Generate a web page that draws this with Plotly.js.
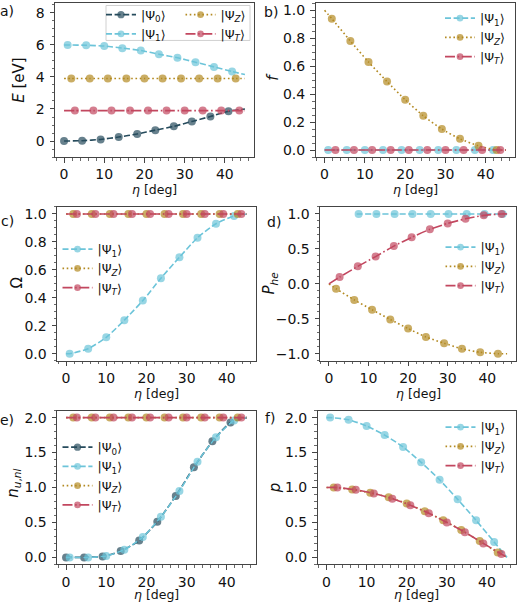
<!DOCTYPE html>
<html>
<head>
<meta charset="utf-8">
<script src="https://cdn.plot.ly/plotly-3.0.1.min.js"></script>
<style>html,body{margin:0;padding:0;background:#fff}#chart{width:520px;height:602px}</style>
</head>
<body>
<div id="chart"></div>
<script>
// ---------- data ----------
// marker positions along eta [deg] for each state
const ETA_PSI0 = [0, 4.5, 9.1, 13.6, 18.2, 22.7, 27.3, 31.8, 36.4, 40.9];
const ETA_PSI1 = [0.9, 5.5, 10.0, 14.5, 19.1, 23.6, 28.2, 32.7, 37.3, 41.8];
const ETA_PSIZ = [1.8, 6.4, 10.9, 15.5, 20.0, 24.5, 29.1, 33.6, 38.2, 42.7];
const ETA_PSIT = [2.7, 7.3, 11.8, 16.4, 20.9, 25.5, 30.0, 34.5, 39.1, 43.6];
const ETA_PSI1_PHE = [7.5, 12.0, 16.6, 21.1, 25.7, 30.2, 34.8, 39.3, 43.9];

const LEGEND_NAMES = ['|Ψ<sub>0</sub>⟩', '|Ψ<sub>1</sub>⟩', '|Ψ<sub><i>Z</i></sub>⟩', '|Ψ<sub><i>T</i></sub>⟩'];
const PANEL_LABELS = ['a)', 'b)', 'c)', 'd)', 'e)', 'f)'];
const Y_TITLES = ['<i>E</i> [eV]', '<i>f</i>', 'Ω', '<i>P</i><sub><i>he</i></sub>', '<i>n</i><sub><i>u</i>,<i>nl</i></sub>', '<i>p</i>'];
const X_TITLE = '<i>η</i> [deg]';
const X_TICKS = [0, 10, 20, 30, 40];

// a) energies E [eV]
const E_psi0 = [0, 0.02, 0.1, 0.25, 0.44, 0.68, 0.92, 1.22, 1.53, 1.86];
const E_psi1 = [6.0, 5.98, 5.93, 5.8, 5.65, 5.42, 5.2, 4.92, 4.63, 4.34];
const E_psiZ = [3.9, 3.9, 3.9, 3.9, 3.9, 3.9, 3.9, 3.9, 3.9, 3.9];
const E_psiT = [1.9, 1.9, 1.9, 1.9, 1.9, 1.9, 1.9, 1.9, 1.9, 1.9];
const E_psi0_edges = [null, [45, 2.0]];
const E_psi1_edges = [[0, 6.0], [45, 4.15]];
const E_psiZ_edges = [[0, 3.9], [45, 3.9]];
const E_psiT_edges = [[0, 1.9], [45, 1.9]];

// b) oscillator strength f
const f_psi1 = [0, 0, 0, 0, 0, 0, 0, 0, 0, 0];
const f_psiZ = [0.94, 0.78, 0.63, 0.49, 0.36, 0.245, 0.15, 0.08, 0.03, 0.0];
const f_psiT = [0, 0, 0, 0, 0, 0, 0, 0, 0, 0];
const f_psi1_edges = [[0, 0], [45, 0]];
const f_psiZ_edges = [[0, 1.0], [45, 0]];
const f_psiT_edges = [[0, 0], [45, 0]];

// c) Omega
const W_psi1 = [0, 0.036, 0.117, 0.24, 0.38, 0.54, 0.69, 0.83, 0.93, 0.986];
const W_psiZ = [1, 1, 1, 1, 1, 1, 1, 1, 1, 1];
const W_psiT = [1, 1, 1, 1, 1, 1, 1, 1, 1, 1];
const W_psi1_edges = [[0, 0], [45, 1.0]];
const W_psiZ_edges = [[0, 1], [45, 1]];
const W_psiT_edges = [[0, 1], [45, 1]];

// d) P_he
const P_psi1 = [1, 1, 1, 1, 1, 1, 1, 1, 1];
const P_psiZ = [-0.07, -0.23, -0.37, -0.51, -0.64, -0.76, -0.85, -0.93, -0.98, -1.0];
const P_psiT = [0.096, 0.25, 0.39, 0.54, 0.665, 0.78, 0.865, 0.93, 0.98, 1.0];
const P_psi1_edges = [[7.0, 1], [45, 1]];
const P_psiZ_edges = [[0, 0], [45, -1.0]];
const P_psiT_edges = [[0, 0], [45, 1.0]];

// e) n_u,nl
const n_psi0 = [0, 0, 0.014, 0.09, 0.24, 0.51, 0.88, 1.29, 1.66, 1.93];
const n_psi1 = [0, 0, 0.02, 0.11, 0.29, 0.58, 0.95, 1.37, 1.72, 1.96];
const n_psiZ = [2, 2, 2, 2, 2, 2, 2, 2, 2, 2];
const n_psiT = [2, 2, 2, 2, 2, 2, 2, 2, 2, 2];
const n_psi0_edges = [null, [45, 2.0]];
const n_psi1_edges = [[0, 0], [45, 2.0]];
const n_psiZ_edges = [[0, 2], [45, 2]];
const n_psiT_edges = [[0, 2], [45, 2]];

// f) p
const p_psi1 = [2.0, 1.97, 1.88, 1.75, 1.58, 1.36, 1.11, 0.83, 0.53, 0.22];
const p_psiZ = [1.0, 0.97, 0.924, 0.86, 0.77, 0.66, 0.53, 0.39, 0.233, 0.07];
const p_psiT = [1.0, 0.967, 0.914, 0.84, 0.745, 0.63, 0.50, 0.36, 0.2, 0.048];
const p_psi1_edges = [[0, 2.0], [45, 0.0]];
const p_psiZ_edges = [[0, 1.0], [45, 0.0]];
const p_psiT_edges = [[0, 1.0], [45, 0.0]];

// ---------- styles ----------
const W = 520, H = 602;
const FONT = 'DejaVu Sans';
const MS = 8, LW = 1.6;
const STYLE = {
  psi0: {color: '#264b5c', dash: '6px,2.6px'},
  psi1: {color: '#6cc4d9', dash: '6px,2.6px'},
  psiZ: {color: '#b38a22', dash: '1.6px,2.6px'},
  psiT: {color: '#c2475f', dash: '10px,2.6px,1.6px,2.6px'}
};

// panel boxes in pixels: [left, right, top, bottom]
const BOX = [
  [55, 254, 2.3, 156.3], [315.5, 515, 2.3, 156.3],
  [57, 256, 206.3, 360.3], [320, 516, 206.3, 360.3],
  [57, 256, 410.3, 564.3], [317.5, 516, 410.3, 564.3]
];
const YRANGE = [[-1.0, 8.6], [-0.05, 1.05], [-0.05, 1.05], [-1.1, 1.1], [-0.1, 2.1], [-0.1, 2.1]];
const YDTICK = [2, 0.2, 0.2, 0.5, 0.5, 0.5];
const YMINOR = [0.5, 0.05, 0.05, 0.1, 0.1, 0.1];
const YFMT = ['d', '.1f', '.1f', '.1f', '.1f', '.1f'];

function px2x(p) { return p / W; }
function px2y(p) { return 1 - p / H; }

function trace(xm, ym, edges, st, k, name, legend) {
  const x = [], y = [], s = [];
  if (edges[0]) { x.push(edges[0][0]); y.push(edges[0][1]); s.push(0); }
  xm.forEach((v, i) => { x.push(v); y.push(ym[i]); s.push(MS); });
  if (edges[1]) { x.push(edges[1][0]); y.push(edges[1][1]); s.push(0); }
  const sfx = k === 0 ? '' : String(k + 1);
  return {
    type: 'scatter', mode: 'lines+markers', x: x, y: y,
    xaxis: 'x' + sfx, yaxis: 'y' + sfx, name: name,
    legend: legend, showlegend: true, cliponaxis: false,
    line: {color: st.color, width: LW, dash: st.dash, shape: 'spline', smoothing: 0.6},
    marker: {color: st.color, size: s, line: {width: 0}},
    hoverinfo: 'skip'
  };
}

const data = [
  trace(ETA_PSI0, E_psi0, E_psi0_edges, STYLE.psi0, 0, LEGEND_NAMES[0], 'legend'),
  trace(ETA_PSI1, E_psi1, E_psi1_edges, STYLE.psi1, 0, LEGEND_NAMES[1], 'legend'),
  trace(ETA_PSIZ, E_psiZ, E_psiZ_edges, STYLE.psiZ, 0, LEGEND_NAMES[2], 'legend2'),
  trace(ETA_PSIT, E_psiT, E_psiT_edges, STYLE.psiT, 0, LEGEND_NAMES[3], 'legend2'),

  trace(ETA_PSI1, f_psi1, f_psi1_edges, STYLE.psi1, 1, LEGEND_NAMES[1], 'legend3'),
  trace(ETA_PSIZ, f_psiZ, f_psiZ_edges, STYLE.psiZ, 1, LEGEND_NAMES[2], 'legend3'),
  trace(ETA_PSIT, f_psiT, f_psiT_edges, STYLE.psiT, 1, LEGEND_NAMES[3], 'legend3'),

  trace(ETA_PSI1, W_psi1, W_psi1_edges, STYLE.psi1, 2, LEGEND_NAMES[1], 'legend4'),
  trace(ETA_PSIZ, W_psiZ, W_psiZ_edges, STYLE.psiZ, 2, LEGEND_NAMES[2], 'legend4'),
  trace(ETA_PSIT, W_psiT, W_psiT_edges, STYLE.psiT, 2, LEGEND_NAMES[3], 'legend4'),

  trace(ETA_PSI1_PHE, P_psi1, P_psi1_edges, STYLE.psi1, 3, LEGEND_NAMES[1], 'legend5'),
  trace(ETA_PSIZ, P_psiZ, P_psiZ_edges, STYLE.psiZ, 3, LEGEND_NAMES[2], 'legend5'),
  trace(ETA_PSIT, P_psiT, P_psiT_edges, STYLE.psiT, 3, LEGEND_NAMES[3], 'legend5'),

  trace(ETA_PSI0, n_psi0, n_psi0_edges, STYLE.psi0, 4, LEGEND_NAMES[0], 'legend6'),
  trace(ETA_PSI1, n_psi1, n_psi1_edges, STYLE.psi1, 4, LEGEND_NAMES[1], 'legend6'),
  trace(ETA_PSIZ, n_psiZ, n_psiZ_edges, STYLE.psiZ, 4, LEGEND_NAMES[2], 'legend6'),
  trace(ETA_PSIT, n_psiT, n_psiT_edges, STYLE.psiT, 4, LEGEND_NAMES[3], 'legend6'),

  trace(ETA_PSI1, p_psi1, p_psi1_edges, STYLE.psi1, 5, LEGEND_NAMES[1], 'legend7'),
  trace(ETA_PSIZ, p_psiZ, p_psiZ_edges, STYLE.psiZ, 5, LEGEND_NAMES[2], 'legend7'),
  trace(ETA_PSIT, p_psiT, p_psiT_edges, STYLE.psiT, 5, LEGEND_NAMES[3], 'legend7')
];

const layout = {
  width: W, height: H, margin: {l: 0, r: 0, t: 0, b: 0},
  paper_bgcolor: '#fff', plot_bgcolor: '#fff',
  font: {family: FONT, size: 12, color: '#111'},
  showlegend: true, hovermode: false,
  annotations: [], shapes: []
};

const tickfont = {family: FONT, size: 14, color: '#111'};
for (let k = 0; k < 6; k++) {
  const b = BOX[k];
  const sfx = k === 0 ? '' : String(k + 1);
  layout['xaxis' + sfx] = {
    domain: [px2x(b[0]), px2x(b[1])], anchor: 'y' + sfx,
    range: [-2.25, 47.25], tickvals: X_TICKS, ticktext: X_TICKS.map(String),
    showgrid: false, zeroline: false, showline: true, mirror: true,
    linecolor: '#444', linewidth: 1, ticks: 'outside', ticklen: 4.5, tickwidth: 1, tickcolor: '#444',
    tickfont: tickfont, ticklabelstandoff: 0,
    minor: {dtick: 2, tick0: 0, ticks: 'outside', ticklen: 2.5, tickwidth: 0.8, tickcolor: '#444', showgrid: false}
  };
  layout['yaxis' + sfx] = {
    domain: [px2y(b[3]), px2y(b[2])], anchor: 'x' + sfx,
    range: YRANGE[k], dtick: YDTICK[k], tick0: 0, tickformat: YFMT[k],
    showgrid: false, zeroline: false, showline: true, mirror: true,
    linecolor: '#444', linewidth: 1, ticks: 'outside', ticklen: 4.5, tickwidth: 1, tickcolor: '#444',
    tickfont: tickfont, ticklabelstandoff: 2,
    minor: {dtick: YMINOR[k], tick0: 0, ticks: 'outside', ticklen: 2.5, tickwidth: 0.8, tickcolor: '#444', showgrid: false}
  };
}

// text positions (pixels)
const LABEL_POS = [[7, 10.5], [271, 11.5], [7.5, 220.5], [274, 221.5], [7, 420], [270, 418]];
const YT_POS = [[19, 80], [273, 76], [17, 283], [270, 283], [13.5, 483], [275, 488]];
const XT_Y = [189, 189, 393, 393, 594.5, 594.5];
for (let k = 0; k < 6; k++) {
  const b = BOX[k];
  layout.annotations.push({xref: 'paper', yref: 'paper', x: px2x(LABEL_POS[k][0]), y: px2y(LABEL_POS[k][1]),
    text: PANEL_LABELS[k], showarrow: false, xanchor: 'center', yanchor: 'middle', font: {family: FONT, size: 14, color: '#111'}});
  layout.annotations.push({xref: 'paper', yref: 'paper', x: px2x(YT_POS[k][0]), y: px2y(YT_POS[k][1]),
    text: Y_TITLES[k], showarrow: false, textangle: -90, xanchor: 'center', yanchor: 'middle', font: {family: FONT, size: 15, color: '#111'}});
  layout.annotations.push({xref: 'paper', yref: 'paper', x: px2x((b[0] + b[1]) / 2), y: px2y(XT_Y[k]),
    text: X_TITLE, showarrow: false, xanchor: 'center', yanchor: 'middle', font: {family: FONT, size: 12.5, color: '#111'}});
}

// legends: [left px, top px]
const LEG_POS = [[101, -1.5], [180.5, -1.5], [440, 3.5], [57.5, 234.5], [440.5, 232.5], [57.5, 432.5], [440.5, 412.5]];
const legNames = ['legend', 'legend2', 'legend3', 'legend4', 'legend5', 'legend6', 'legend7'];
legNames.forEach((nm, i) => {
  layout[nm] = {x: px2x(LEG_POS[i][0]), y: px2y(LEG_POS[i][1]), xanchor: 'left', yanchor: 'top',
    bgcolor: 'rgba(0,0,0,0)', borderwidth: 0, font: {family: FONT, size: 12.5, color: '#111'},
    orientation: 'v', itemclick: false, itemdoubleclick: false};
});
// frame around the two-column legend of panel a
layout.shapes.push({type: 'rect', xref: 'paper', yref: 'paper', x0: px2x(106), x1: px2x(250), y0: px2y(4.5), y1: px2y(39.5),
  line: {color: '#d0d0d0', width: 1}, fillcolor: 'rgba(255,255,255,0.8)', layer: 'below'});

Plotly.newPlot('chart', data, layout, {staticPlot: true, displayModeBar: false});
</script>
</body>
</html>
